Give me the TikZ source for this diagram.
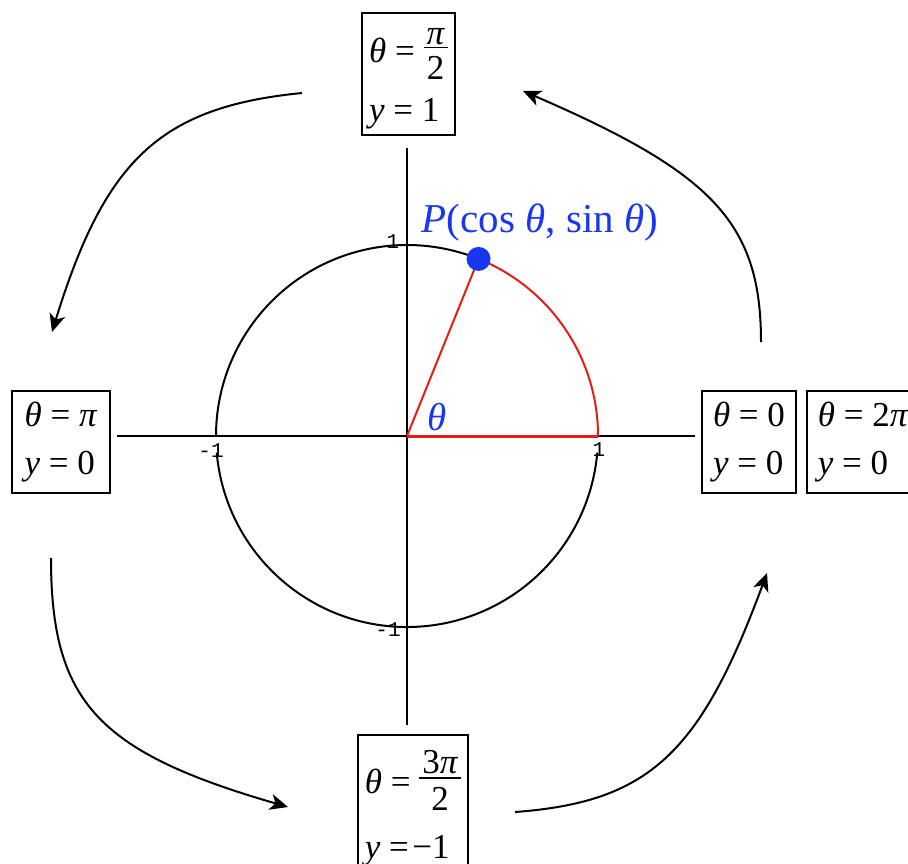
\documentclass[tikz,border=0pt]{standalone}
\usepackage{fontspec}
\setmainfont{Liberation Serif}
\setmonofont{Liberation Mono}
\usetikzlibrary{arrows.meta,calc}
\definecolor{myred}{RGB}{228,30,20}
\definecolor{myblue}{RGB}{25,55,240}
\newcommand{\eqs}{\hspace{0.25em}=\hspace{0.25em}}
\newsavebox\frnum
\newsavebox\frden
\newlength\frw
\newcommand{\tfr}[3][10pt]{\sbox\frnum{#2}\sbox\frden{#3}%
  \setlength\frw{\wd\frnum}\ifdim\wd\frden>\frw\setlength\frw{\wd\frden}\fi
  \addtolength\frw{3pt}%
  \rlap{\raisebox{#1}{\makebox[\frw]{\usebox\frnum}}}%
  \rlap{\raisebox{7.2pt}{\rule{\frw}{0.7pt}}}%
  \raisebox{-8.5pt}{\makebox[\frw]{\usebox\frden}}}
\begin{document}
\begin{tikzpicture}[x=0.5pt,y=0.5pt,
  box/.style={draw, line width=1pt, align=left, inner sep=0pt, font=\fontsize{17.5}{24}\selectfont},
  arr/.style={line width=1pt, -{Stealth[length=9pt,width=8pt,inset=2.5pt]}},
  tick/.style={font=\ttfamily\fontsize{10.5}{10.5}\selectfont, inner sep=0pt},
  axis/.style={line width=1pt},
  circ/.style={line width=1pt}]
\useasboundingbox (0,0) rectangle (908,-863);
\clip (0,0) rectangle (908,-863);
% origin and axes
\coordinate (O) at (407,-436);
\coordinate (xl) at (117,-436);
\coordinate (xr) at (695,-436);
\coordinate (yt) at (407,-148);
\coordinate (yb) at (407,-725);
\coordinate (X1) at (598,-436);
\coordinate (P) at ($(O)+(68:191)$);
\draw[axis] (xl) -- (xr);
\draw[axis] (yt) -- (yb);
% circle
\draw[circ] (O) ++(68:191) arc[start angle=68, end angle=180, radius=191];
\draw[circ] (O) ++(185:191) arc[start angle=185, end angle=355, radius=191];
\draw[circ, myred] (O) ++(0:191) arc[start angle=0, end angle=68, radius=191];
\draw[myred, line width=1pt] (O) -- (P);
\draw[myred, line width=1.5pt] (O) -- (X1);
\node[circle, fill=myblue, minimum size=12pt, inner sep=0pt] (dot) at (P) {};
% labels
\node[inner sep=0pt, text=myblue, font=\fontsize{20.5}{22}\selectfont] (plabel) at (540,-223) {\textit{P}(cos \textit{θ}, sin \textit{θ})};
\node[inner sep=0pt, text=myblue, font=\fontsize{19.5}{22}\selectfont] (th) at (437,-417) {\textit{θ}};
\node[tick] (t1) at (393,-242) {1};
\node[tick] (tm1) at (388,-630) {-1};
\node[tick] (l1) at (599,-450) {1};
\node[tick] (lm1) at (211,-451) {-1};
% boxes
\node[box, minimum width=46.5pt, minimum height=61pt] (top) at (408.5,-74)
  {\rule{0pt}{22pt}\textit{θ}\eqs\tfr[9pt]{\textit{π}}{2}\\[5.5pt]\textit{y}\eqs1};
\node[box, minimum width=49pt, minimum height=51pt] (left) at (61,-442)
  {\textit{θ}\eqs\textit{π}\\\textit{y}\eqs0};
\node[box, minimum width=47pt, minimum height=51pt] (zero) at (749,-442)
  {\textit{θ}\eqs0\\\textit{y}\eqs0};
\node[box, minimum width=56pt, minimum height=51pt] (twopi) at (863,-442)
  {\textit{θ}\eqs2\textit{π}\\\textit{y}\eqs0};
\node[box, minimum width=55pt, minimum height=72.7pt] (bot) at (413,-807.7)
  {\textit{θ}\eqs\tfr{3\textit{π}}{2}\\[8.5pt]\textit{y}\hspace{0.25em}=\hspace{0.1em}−1};
% arrows
\coordinate (a1s) at (302,-93);  \coordinate (a1e) at (52,-332);
\coordinate (a2s) at (51,-558);  \coordinate (a2e) at (288,-807);
\coordinate (a3s) at (515,-812); \coordinate (a3e) at (767,-573);
\coordinate (a4s) at (761,-342); \coordinate (a4e) at (523,-91);
\draw[arr] (a1s) .. controls (160,-107) and (105,-160) .. (a1e);
\draw[arr] (a2s) .. controls (51,-702) and (98,-752) .. (a2e);
\draw[arr] (a3s) .. controls (649,-802) and (700,-754) .. (a3e);
\draw[arr] (a4s) .. controls (761,-223) and (713,-173) .. (a4e);
\end{tikzpicture}
\end{document}
